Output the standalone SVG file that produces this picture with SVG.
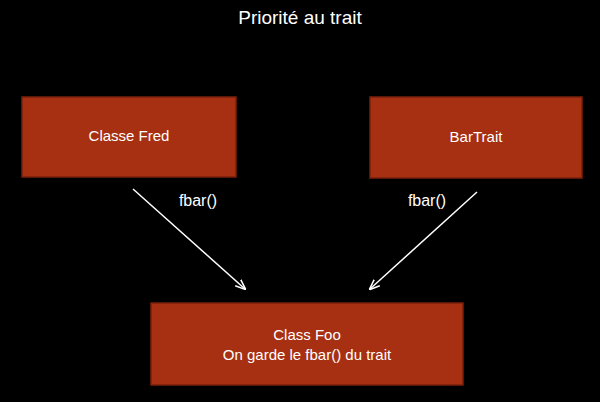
<svg xmlns="http://www.w3.org/2000/svg" width="600" height="402" viewBox="0 0 600 402">
<style>
.box{fill:#a63011;stroke:#7a200b;stroke-width:1.5}
.t{font-family:"Liberation Sans",Arial,sans-serif;fill:#fff;text-anchor:middle;font-size:15px}
.c{stroke:#fff;stroke-width:1.5;fill:none;marker-end:url(#a)}
</style>
<defs><marker id="a" viewBox="0 0 10 10" refX="9" refY="5" markerWidth="7" markerHeight="7" orient="auto"><path d="M0,1 L10,5 L0,9" fill="none" stroke="#fff" stroke-width="1.5"/></marker></defs>
<rect width="600" height="402" fill="#000"/>
<text class="t" x="300" y="24" font-size="19" style="font-size:19px">Priorité au trait</text>
<g id="fred"><rect class="box" x="22" y="97" width="214" height="80"/><text class="t" x="129" y="141">Classe Fred</text></g>
<g id="bartrait"><rect class="box" x="370" y="97" width="212" height="81"/><text class="t" x="476" y="142">BarTrait</text></g>
<g id="foo"><rect class="box" x="151" y="303" width="312" height="82"/><text class="t" x="307" y="340">Class Foo</text><text class="t" x="307" y="360">On garde le fbar() du trait</text></g>
<g id="connectors">
<line class="c" x1="133" y1="189" x2="245" y2="289"/>
<line class="c" x1="477" y1="192" x2="370" y2="289"/>
<text class="t" x="198" y="206" style="font-size:16px">fbar()</text>
<text class="t" x="427" y="206" style="font-size:16px">fbar()</text>
</g>
</svg>
